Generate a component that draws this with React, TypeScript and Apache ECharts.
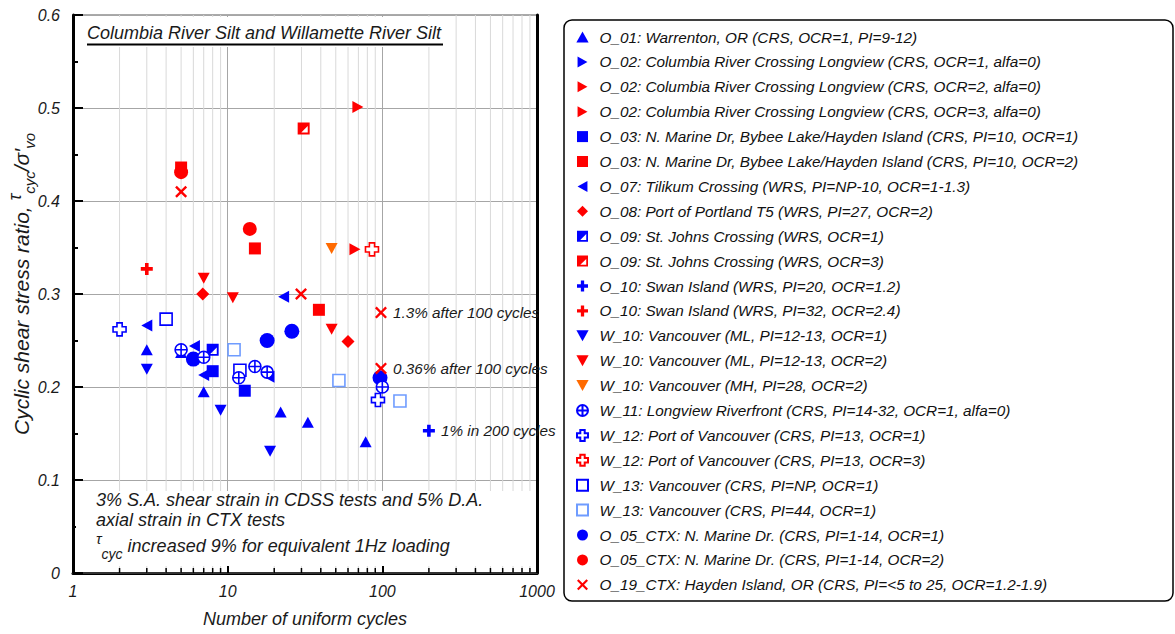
import React, { useEffect, useRef } from "react";
import * as echarts from "echarts";

// ---------- axis structure ----------
const X_MIN = 1;
const X_MAX = 1000;
const Y_MIN = 0;
const Y_MAX = 0.6;
const Y_INTERVAL = 0.1;
const MINOR_X = [2, 3, 4, 5, 6, 7, 8, 9, 20, 30, 40, 50, 60, 70, 80, 90, 200, 300, 400, 500, 600, 700, 800, 900];

// ---------- data: [number of uniform cycles, CSR] ----------
const O01 = [[3, 0.240], [5, 0.237], [7, 0.195], [22, 0.173], [33, 0.162], [78, 0.141]];
const O02_OCR1: number[][] = [];
const O02_OCR2 = [[69.5, 0.501]];
const O02_OCR3 = [[66.5, 0.348]];
const O03_OCR1 = [[8, 0.217], [12.9, 0.196]];
const O03_OCR2 = [[5, 0.436], [15, 0.349], [38.9, 0.283]];
const O07 = [[3, 0.266], [6.1, 0.244], [7, 0.213], [18.5, 0.211], [23, 0.297]];
const O08 = [[6.9, 0.300], [60, 0.249]];
const O09_OCR1 = [[8, 0.240]];
const O09_OCR3 = [[31, 0.478]];
const O10_OCR12 = [[200, 0.153]];
const O10_OCR24 = [[3, 0.327]];
const W10_ML1 = [[3, 0.219], [9, 0.175], [18.8, 0.131]];
const W10_ML2 = [[7, 0.317], [10.8, 0.296], [47, 0.262]];
const W10_MH = [[47, 0.349]];
const W11 = [[5, 0.240], [7, 0.232], [11.8, 0.210], [15, 0.222], [18, 0.216], [100, 0.200]];
const W12_OCR1 = [[2, 0.262], [93.7, 0.186]];
const W12_OCR3 = [[85.7, 0.348]];
const W13_NP = [[4, 0.273], [12, 0.218]];
const W13_PI44 = [[11, 0.240], [52.4, 0.207], [130, 0.185]];
const O05_OCR1 = [[6, 0.230], [18, 0.250], [26, 0.260], [96.6, 0.210]];
const O05_OCR2 = [[5, 0.431], [13.9, 0.370]];
const O19 = [[5, 0.410], [29.8, 0.300], [98, 0.280], [98, 0.220]];

// point annotations (index within series -> text)
const NOTES_O19: Record<number, string> = { 2: "1.3% after 100 cycles", 3: "0.36% after 100 cycles" };
const NOTES_O10: Record<number, string> = { 0: "1% in 200 cycles" };

const NAMES = [
  "O_01: Warrenton, OR (CRS, OCR=1, PI=9-12)",
  "O_02: Columbia River Crossing Longview (CRS, OCR=1, alfa=0)",
  "O_02: Columbia River Crossing Longview (CRS, OCR=2, alfa=0)",
  "O_02: Columbia River Crossing Longview (CRS, OCR=3, alfa=0)",
  "O_03: N. Marine Dr, Bybee Lake/Hayden Island (CRS, PI=10, OCR=1)",
  "O_03: N. Marine Dr, Bybee Lake/Hayden Island (CRS, PI=10, OCR=2)",
  "O_07: Tilikum Crossing (WRS, PI=NP-10, OCR=1-1.3)",
  "O_08: Port of Portland T5 (WRS, PI=27, OCR=2)",
  "O_09: St. Johns Crossing (WRS, OCR=1)",
  "O_09: St. Johns Crossing (WRS, OCR=3)",
  "O_10: Swan Island (WRS, PI=20, OCR=1.2)",
  "O_10: Swan Island (WRS, PI=32, OCR=2.4)",
  "W_10: Vancouver (ML, PI=12-13, OCR=1)",
  "W_10: Vancouver (ML, PI=12-13, OCR=2)",
  "W_10: Vancouver (MH, PI=28, OCR=2)",
  "W_11: Longview Riverfront (CRS, PI=14-32, OCR=1, alfa=0)",
  "W_12: Port of Vancouver (CRS, PI=13, OCR=1)",
  "W_12: Port of Vancouver (CRS, PI=13, OCR=3)",
  "W_13: Vancouver (CRS, PI=NP, OCR=1)",
  "W_13: Vancouver (CRS, PI=44, OCR=1)",
  "O_05_CTX: N. Marine Dr. (CRS, PI=1-14, OCR=1)",
  "O_05_CTX: N. Marine Dr. (CRS, PI=1-14, OCR=2)",
  "O_19_CTX: Hayden Island, OR (CRS, PI=<5 to 25, OCR=1.2-1.9)",
];

const SYM = {
  up: "path://M5,0L10,9L0,9Z",
  down: "path://M0,0L10,0L5,9Z",
  right: "path://M0,0L9,5L0,10Z",
  left: "path://M9,0L0,5L9,10Z",
  square: "path://M0,0L10,0L10,10L0,10Z",
  diamond: "path://M5,0L10,5L5,10L0,5Z",
  circle: "path://M0,5A5,5,0,1,1,10,5A5,5,0,1,1,0,5Z",
  half: "path://M0,0L10,0L10,10L0,10Z M8.4,3L3,8.4L8.4,8.4Z",
  plus: "path://M3.5,0L6.5,0L6.5,3.5L10,3.5L10,6.5L6.5,6.5L6.5,10L3.5,10L3.5,6.5L0,6.5L0,3.5L3.5,3.5Z",
  plusOpen: "path://M3,0L7,0L7,3L10,3L10,7L7,7L7,10L3,10L3,7L0,7L0,3L3,3Z",
  cross: "path://M1.4,0L5,3.6L8.6,0L10,1.4L6.4,5L10,8.6L8.6,10L5,6.4L1.4,10L0,8.6L3.6,5L0,1.4Z",
  target: "path://M0,5A5,5,0,1,1,10,5A5,5,0,1,1,0,5Z M5,0L5,10 M0,5L10,5",
};

const BLUE = "#0000ff";
const RED = "#ff0000";
const ORANGE = "#ff6a00";
const LIGHTBLUE = "#6f9cff";
const FONT = "'Liberation Sans', Arial, sans-serif";

type Def = {
  data: number[][];
  symbol: string;
  size: number | number[];
  color: string;
  open?: boolean;
  z?: number;
  notes?: Record<number, string>;
};

const DEFS: Def[] = [
  { data: O01, symbol: SYM.up, size: [12, 11], color: BLUE },
  { data: O02_OCR1, symbol: SYM.right, size: [11, 12], color: BLUE },
  { data: O02_OCR2, symbol: SYM.right, size: [11, 12], color: RED },
  { data: O02_OCR3, symbol: SYM.right, size: [11, 12], color: RED },
  { data: O03_OCR1, symbol: SYM.square, size: 12, color: BLUE },
  { data: O03_OCR2, symbol: SYM.square, size: 12, color: RED },
  { data: O07, symbol: SYM.left, size: [11, 12], color: BLUE },
  { data: O08, symbol: SYM.diamond, size: 13, color: RED },
  { data: O09_OCR1, symbol: SYM.half, size: 12, color: BLUE },
  { data: O09_OCR3, symbol: SYM.half, size: 12, color: RED },
  { data: O10_OCR12, symbol: SYM.plus, size: 12, color: BLUE, notes: NOTES_O10 },
  { data: O10_OCR24, symbol: SYM.plus, size: 12, color: RED },
  { data: W10_ML1, symbol: SYM.down, size: [12, 11], color: BLUE },
  { data: W10_ML2, symbol: SYM.down, size: [12, 11], color: RED },
  { data: W10_MH, symbol: SYM.down, size: [12, 11], color: ORANGE },
  { data: W11, symbol: SYM.target, size: 12, color: BLUE, open: true, z: 3 },
  { data: W12_OCR1, symbol: SYM.plusOpen, size: 13, color: BLUE, open: true },
  { data: W12_OCR3, symbol: SYM.plusOpen, size: 13, color: RED, open: true },
  { data: W13_NP, symbol: SYM.square, size: 12, color: BLUE, open: true },
  { data: W13_PI44, symbol: SYM.square, size: 12, color: LIGHTBLUE, open: true },
  { data: O05_OCR1, symbol: SYM.circle, size: 15, color: BLUE },
  { data: O05_OCR2, symbol: SYM.circle, size: 14, color: RED },
  { data: O19, symbol: SYM.cross, size: 12, color: RED, notes: NOTES_O19 },
];

export default function App() {
  const ref = useRef<HTMLDivElement>(null);

  useEffect(() => {
    document.body.style.margin = "0";
    if (!ref.current) return;
    const chart = echarts.init(ref.current, undefined, { renderer: "svg" });

    const scatter = DEFS.map((d, i) => ({
      type: "scatter",
      name: NAMES[i],
      z: d.z ?? 2,
      symbol: d.symbol,
      symbolSize: d.size,
      itemStyle: d.open
        ? { color: "#ffffff", borderColor: d.color, borderWidth: 1.6, opacity: 1 }
        : { color: d.color, opacity: 1 },
      data: d.data.map((p, j) =>
        d.notes && d.notes[j]
          ? {
              value: p,
              label: {
                show: true,
                position: "right",
                distance: 6,
                formatter: d.notes[j],
                fontFamily: FONT,
                fontStyle: "italic",
                fontSize: 15.3,
                color: "#1a1a1a",
              },
            }
          : p
      ),
    }));

    const minorGrid = {
      type: "custom",
      name: "_minorGrid",
      silent: true,
      z: 1,
      data: MINOR_X.map((v) => [v, Y_MIN]),
      renderItem: (_p: any, api: any) => {
        const a = api.coord([api.value(0), Y_MIN]);
        const b = api.coord([api.value(0), Y_MAX]);
        return {
          type: "line",
          shape: { x1: a[0], y1: a[1], x2: b[0], y2: b[1] },
          style: { stroke: "#d9d9d9", lineWidth: 1 },
        };
      },
    };

    const minorTicks = {
      type: "custom",
      name: "_minorTicks",
      silent: true,
      z: 6,
      data: MINOR_X.map((v) => [v, Y_MIN]),
      renderItem: (_p: any, api: any) => {
        const a = api.coord([api.value(0), Y_MIN]);
        return {
          type: "line",
          shape: { x1: a[0], y1: a[1], x2: a[0], y2: a[1] - 5 },
          style: { stroke: "#000", lineWidth: 1.5 },
        };
      },
    };

    const txt = (extra: any) => ({
      fontFamily: FONT,
      fontStyle: "italic",
      fill: "#1a1a1a",
      ...extra,
    });

    chart.setOption({
      animation: false,
      backgroundColor: "#ffffff",
      grid: {
        left: 73,
        top: 15,
        width: 464,
        height: 558,
        show: true,
        borderColor: "#555",
        borderWidth: 1,
        backgroundColor: "transparent",
      },
      xAxis: [
        {
          type: "log",
          logBase: 10,
          min: X_MIN,
          max: X_MAX,
          name: "Number of uniform cycles",
          nameLocation: "middle",
          nameGap: 37,
          nameTextStyle: { fontFamily: FONT, fontStyle: "italic", fontSize: 18, color: "#1a1a1a" },
          axisLine: { show: true, lineStyle: { color: "#000", width: 3 } },
          axisTick: { show: true, inside: true, length: 10, lineStyle: { color: "#000", width: 2 } },
          axisLabel: {
            show: true,
            margin: 10,
            fontFamily: FONT,
            fontStyle: "italic",
            fontSize: 16,
            color: "#1a1a1a",
            formatter: (v: number) => String(Math.round(v)),
          },
          splitLine: { show: true, lineStyle: { color: "#a6a6a6", width: 1 } },
        },
        {
          type: "value",
          position: "top",
          min: 0,
          max: 1,
          axisLine: { show: true, lineStyle: { color: "#444", width: 1.5 } },
          axisTick: { show: false },
          axisLabel: { show: false },
          splitLine: { show: false },
        },
      ],
      yAxis: [
        {
          type: "value",
          min: Y_MIN,
          max: Y_MAX,
          interval: Y_INTERVAL,
          axisLine: { show: true, lineStyle: { color: "#000", width: 3 } },
          axisTick: { show: true, inside: true, length: 10, lineStyle: { color: "#000", width: 2 } },
          minorTick: { show: true, splitNumber: 2, length: 5, lineStyle: { color: "#000", width: 2 } },
          axisLabel: {
            show: true,
            margin: 13,
            fontFamily: FONT,
            fontStyle: "italic",
            fontSize: 16,
            color: "#1a1a1a",
            formatter: (v: number) => (v === 0 ? "0" : v.toFixed(1)),
          },
          splitLine: { show: true, lineStyle: { color: "#a6a6a6", width: 1 } },
        },
        {
          type: "value",
          position: "right",
          min: Y_MIN,
          max: Y_MAX,
          axisLine: { show: true, lineStyle: { color: "#000", width: 3 } },
          axisTick: { show: false },
          axisLabel: { show: false },
          splitLine: { show: false },
        },
      ],
      legend: {
        show: true,
        orient: "vertical",
        left: 576,
        top: 28,
        padding: 0,
        itemWidth: 24,
        itemHeight: 11,
        itemGap: 6.9,
        selectedMode: false,
        data: NAMES,
        textStyle: { fontFamily: FONT, fontStyle: "italic", fontSize: 15.3, color: "#111", lineHeight: 18 },
      },
      graphic: [
        {
          type: "rect",
          z: 0,
          silent: true,
          shape: { x: 564, y: 20, width: 609, height: 581, r: 8 },
          style: { fill: "none", stroke: "#000", lineWidth: 1.5 },
        },
        {
          type: "rect",
          z: 10,
          silent: true,
          shape: { x: 80, y: 17, width: 366, height: 30 },
          style: { fill: "#ffffff" },
        },
        {
          type: "text",
          z: 11,
          silent: true,
          x: 87,
          y: 33,
          style: txt({ text: "Columbia River Silt and Willamette River Silt", fontSize: 18, verticalAlign: "middle" }),
        },
        {
          type: "line",
          z: 11,
          silent: true,
          shape: { x1: 87, y1: 44.5, x2: 443, y2: 44.5 },
          style: { stroke: "#000", lineWidth: 2 },
        },
        {
          type: "rect",
          z: 10,
          silent: true,
          shape: { x: 76, y: 491, width: 459, height: 75 },
          style: { fill: "#ffffff" },
        },
        {
          type: "text",
          z: 11,
          silent: true,
          x: 96,
          y: 500,
          style: txt({ text: "3% S.A. shear strain in CDSS tests and 5% D.A.", fontSize: 18, verticalAlign: "middle" }),
        },
        {
          type: "text",
          z: 11,
          silent: true,
          x: 96,
          y: 520,
          style: txt({ text: "axial strain in CTX tests", fontSize: 18, verticalAlign: "middle" }),
        },
        {
          type: "text",
          z: 11,
          silent: true,
          x: 96,
          y: 546,
          style: txt({
            text: "{t|τ}{s|cyc}{n| increased 9% for equivalent 1Hz loading}",
            verticalAlign: "middle",
            rich: {
              t: { fontFamily: FONT, fontStyle: "italic", fontSize: 15, lineHeight: 15, verticalAlign: "top", color: "#1a1a1a" },
              s: { fontFamily: FONT, fontStyle: "italic", fontSize: 14, lineHeight: 14, verticalAlign: "bottom", color: "#1a1a1a" },
              n: { fontFamily: FONT, fontStyle: "italic", fontSize: 18, lineHeight: 30, verticalAlign: "middle", color: "#1a1a1a" },
            },
          }),
        },
        {
          type: "text",
          z: 11,
          silent: true,
          x: 21,
          y: 284,
          rotation: Math.PI / 2,
          style: txt({
            text: "{n|Cyclic shear stress ratio, }{t|τ}{s|cyc}{n|/σ′}{s|vo}",
            align: "center",
            verticalAlign: "middle",
            rich: {
              n: { fontFamily: FONT, fontStyle: "italic", fontSize: 21, lineHeight: 31, verticalAlign: "middle", color: "#1a1a1a" },
              t: { fontFamily: FONT, fontStyle: "italic", fontSize: 18, lineHeight: 18, verticalAlign: "top", color: "#1a1a1a" },
              s: { fontFamily: FONT, fontStyle: "italic", fontSize: 15, lineHeight: 15, verticalAlign: "bottom", color: "#1a1a1a" },
            },
          }),
        },
      ],
      series: [minorGrid, minorTicks, ...scatter],
    });

    return () => chart.dispose();
  }, []);

  return <div ref={ref} style={{ width: 1175, height: 634 }} />;
}
